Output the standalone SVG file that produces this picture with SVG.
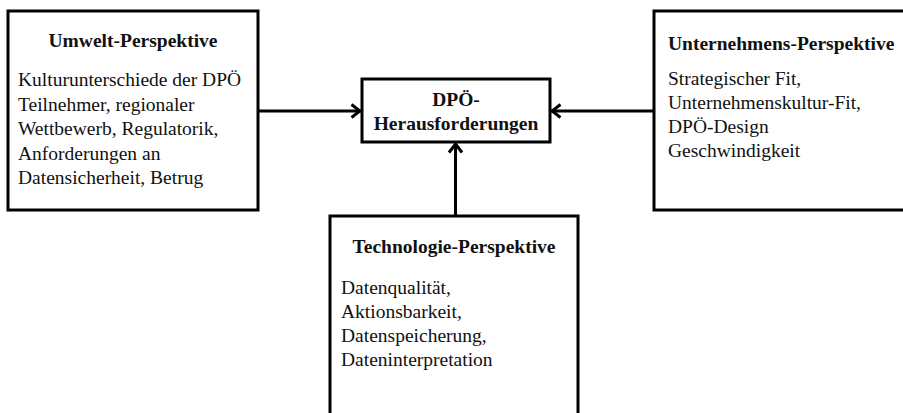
<svg xmlns="http://www.w3.org/2000/svg" width="903" height="413" viewBox="0 0 903 413">
<style>
.box{fill:#fff;stroke:#000;stroke-width:3}
.t{font-family:"Liberation Serif","Times New Roman",serif;font-size:19.5px;fill:#111}
.b{font-weight:bold}
.c{text-anchor:middle}
.con{stroke:#000;stroke-width:3;fill:none}
</style>
<defs>
<marker id="ah" viewBox="0 0 12 16" refX="11" refY="8" markerWidth="12" markerHeight="16" markerUnits="userSpaceOnUse" orient="auto">
<path d="M1.5,1.5 L10,8 L1.5,14.5" fill="none" stroke="#000" stroke-width="3" stroke-linejoin="miter"/>
</marker>
</defs>
<rect width="903" height="413" fill="#fff"/>
<g id="connectors">
<line class="con" x1="258" y1="111" x2="361" y2="111" marker-end="url(#ah)"/>
<line class="con" x1="654" y1="111" x2="551" y2="111" marker-end="url(#ah)"/>
<line class="con" x1="455.5" y1="216" x2="455.5" y2="143" marker-end="url(#ah)"/>
</g>
<g id="umwelt">
<rect class="box" x="8" y="11" width="250" height="199"/>
<text class="t b c" x="133" y="47">Umwelt-Perspektive</text>
<text class="t" x="18" y="86">Kulturunterschiede der DPÖ</text>
<text class="t" x="18" y="110.5">Teilnehmer, regionaler</text>
<text class="t" x="18" y="135">Wettbewerb, Regulatorik,</text>
<text class="t" x="18" y="159.5">Anforderungen an</text>
<text class="t" x="18" y="184">Datensicherheit, Betrug</text>
</g>
<g id="herausforderungen">
<rect class="box" x="362" y="79" width="188" height="63"/>
<text class="t b c" x="456" y="106">DPÖ-</text>
<text class="t b c" x="456" y="130">Herausforderungen</text>
</g>
<g id="unternehmen">
<rect class="box" x="654" y="11" width="260" height="199"/>
<text class="t b" x="668" y="50">Unternehmens-Perspektive</text>
<text class="t" x="668" y="85">Strategischer Fit,</text>
<text class="t" x="668" y="109">Unternehmenskultur-Fit,</text>
<text class="t" x="668" y="133">DPÖ-Design</text>
<text class="t" x="668" y="157">Geschwindigkeit</text>
</g>
<g id="technologie">
<rect class="box" x="330" y="216" width="248" height="210"/>
<text class="t b c" x="454" y="253">Technologie-Perspektive</text>
<text class="t" x="341" y="294">Datenqualität,</text>
<text class="t" x="341" y="318">Aktionsbarkeit,</text>
<text class="t" x="341" y="342">Datenspeicherung,</text>
<text class="t" x="341" y="366">Dateninterpretation</text>
</g>
</svg>
